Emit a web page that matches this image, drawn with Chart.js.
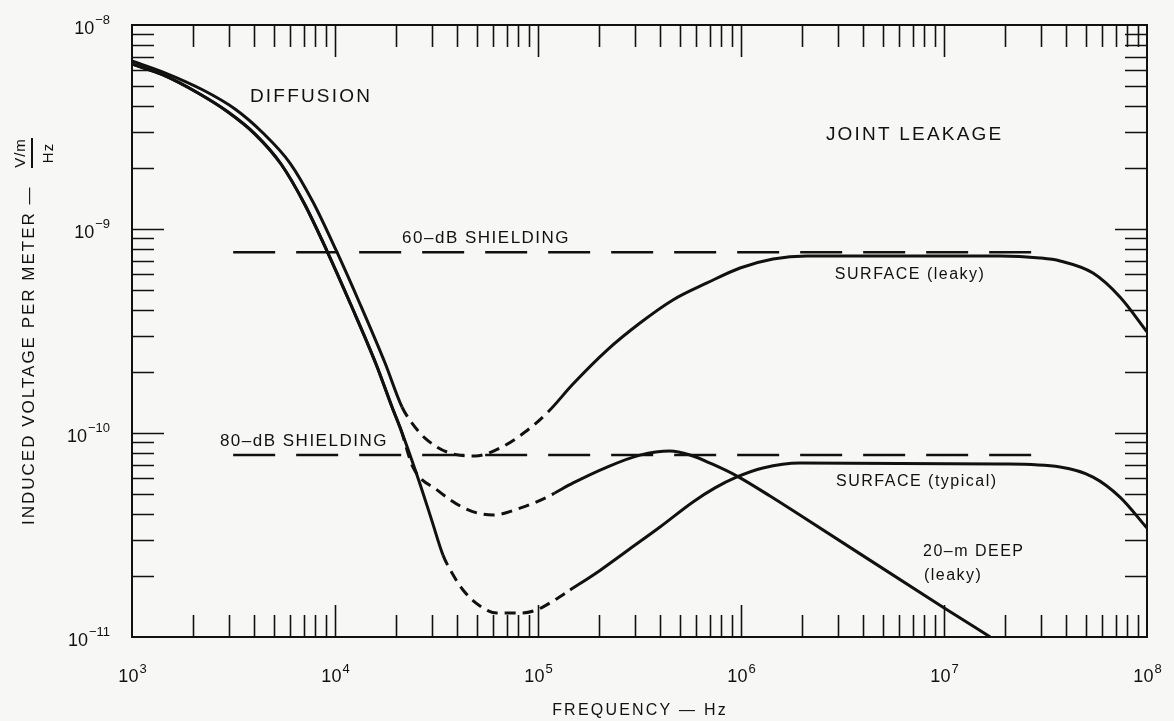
<!DOCTYPE html>
<html>
<head>
<meta charset="utf-8">
<title>Induced voltage per meter vs frequency</title>
<script src="https://cdn.jsdelivr.net/npm/chart.js@4.4.1/dist/chart.umd.min.js"></script>
<style>
  html, body { margin: 0; padding: 0; background: #f7f7f5; }
  #wrap { width: 1174px; height: 721px; position: relative; }
</style>
</head>
<body>
<div id="wrap"><canvas id="chart"></canvas></div>
<script>
// decade exponents used for tick labels
const xExps = [3, 4, 5, 6, 7, 8];
const yExps = [-8, -9, -10, -11];

// shielding reference levels (long dashes)
const shieldFreq = [3.15e3, 2.82e7];
const shield60 = [7.7e-10, 7.7e-10];
const shield80 = [7.8e-11, 7.8e-11];

// SURFACE (leaky): outer diffusion curve -> dashed dip -> joint leakage plateau
const leakyFreq = [1e3, 1.421e3, 2.238e3, 3.217e3, 4.419e3, 6.001e3, 7.791e3, 1.011e4, 1.328e4, 1.764e4, 2.138e4,
  2.395e4, 2.775e4, 3.56e4, 4.895e4, 6.5e4, 8.63e4, 1.12e5,
  1.487e5, 2.19e5, 3.18e5, 4.62e5, 6.8e5, 9.89e5, 1.438e6, 2.11e6, 1.89e7, 2.97e7, 3.73e7, 5.42e7, 7.36e7, 1e8];
const leakyVolt = [6.66e-9, 5.88e-9, 4.8e-9, 3.875e-9, 2.955e-9, 2.106e-9, 1.356e-9, 7.89e-10, 4.29e-10, 2.203e-10, 1.341e-10,
  1.119e-10, 9.45e-11, 8.07e-11, 7.71e-11, 8.44e-11, 1.011e-10, 1.267e-10,
  1.738e-10, 2.55e-10, 3.46e-10, 4.49e-10, 5.44e-10, 6.44e-10, 7.13e-10, 7.38e-10, 7.38e-10, 7.21e-10, 6.97e-10, 6.08e-10, 4.64e-10, 3.13e-10];
const leakyDashed = [2.138e4, 1.12e5];

// 20-m DEEP (leaky)
const deepFreq = [1e3, 1.421e3, 2.114e3, 2.971e3, 4.036e3, 5.42e3, 7.036e3, 9.133e3, 1.199e4, 1.592e4, 1.909e4, 2.114e4,
  2.42e4, 3.18e4, 4.47e4, 6.0e4, 8.15e4, 1.11e5, 1.21e5,
  1.49e5, 2.19e5, 3.18e5, 4.47e5, 5.61e5, 7.195e5, 9.557e5, 1.39e6, 1.95e6, 9.89e6, 1.69e7];
const deepVolt = [6.44e-9, 5.69e-9, 4.64e-9, 3.745e-9, 2.92e-9, 2.083e-9, 1.341e-9, 7.8e-10, 4.24e-10, 2.179e-10, 1.341e-10, 1.034e-10,
  6.81e-11, 5.26e-11, 4.22e-11, 3.96e-11, 4.28e-11, 4.85e-11, 5.08e-11,
  5.69e-11, 6.81e-11, 7.79e-11, 8.16e-11, 7.8e-11, 7.05e-11, 6.15e-11, 4.91e-11, 3.96e-11, 1.4e-11, 1.0e-11];
const deepDashed = [2.114e4, 1.21e5];

// SURFACE (typical)
const typicalFreq = [1e3, 1.421e3, 2.114e3, 2.971e3, 4.036e3, 5.42e3, 7.036e3, 9.133e3, 1.199e4, 1.592e4, 1.909e4, 2.114e4,
  2.342e4, 2.652e4, 3.005e4, 3.404e4, 3.771e4, 4.272e4, 5.18e4, 6.28e4, 8.15e4, 9.88e4, 1.186e5, 1.44e5,
  2.02e5, 2.74e5, 3.99e5, 5.8e5, 7.445e5, 9.557e5, 1.283e6, 1.95e6, 1.89e7, 3.73e7, 5.42e7, 7.36e7, 1e8];
const typicalVolt = [6.44e-9, 5.69e-9, 4.64e-9, 3.745e-9, 2.92e-9, 2.083e-9, 1.341e-9, 7.8e-10, 4.24e-10, 2.179e-10, 1.341e-10, 1.034e-10,
  7.8e-11, 5.44e-11, 3.7e-11, 2.52e-11, 2.06e-11, 1.7e-11, 1.42e-11, 1.31e-11, 1.31e-11, 1.36e-11, 1.5e-11, 1.7e-11,
  2.12e-11, 2.64e-11, 3.46e-11, 4.59e-11, 5.38e-11, 6.09e-11, 6.74e-11, 7.13e-11, 7.05e-11, 6.81e-11, 6.08e-11, 4.85e-11, 3.42e-11];
const typicalDashed = [3.404e4, 1.44e5];

// text placed in data coordinates [label, frequency, volts, font size]
const notes = [
  ['DIFFUSION', 3.81e3, 4.44e-9, 19],
  ['JOINT LEAKAGE', 2.62e6, 2.89e-9, 19],
  ['60\u2013dB SHIELDING', 2.14e4, 9.04e-10, 17],
  ['80\u2013dB SHIELDING', 2.71e3, 9.14e-11, 17],
  ['SURFACE (leaky)', 2.9e6, 5.96e-10, 16],
  ['SURFACE (typical)', 2.94e6, 5.75e-11, 16],
  ['20\u2013m DEEP', 7.88e6, 2.61e-11, 16],
  ['(leaky)', 7.96e6, 1.99e-11, 16]
];

const INK = '#111111';
const FONT = '"Liberation Sans", Arial, Helvetica, sans-serif';

const toPoints = (xs, ys) => xs.map((x, i) => ({ x: x, y: ys[i] }));

const dashedWithin = (range) => ({
  borderDash: ctx => (ctx.p0.parsed.x >= range[0] && ctx.p1.parsed.x <= range[1]) ? [11, 7] : undefined
});

const curve = (label, xs, ys, range) => ({
  label: label,
  data: toPoints(xs, ys),
  showLine: true,
  borderColor: INK,
  borderWidth: 3,
  pointRadius: 0,
  cubicInterpolationMode: 'monotone',
  segment: dashedWithin(range)
});

const shield = (label, ys) => ({
  label: label,
  data: toPoints(shieldFreq, ys),
  showLine: true,
  borderColor: INK,
  borderWidth: 2.5,
  borderDash: [42, 21],
  pointRadius: 0
});

// draws the frame, inward ticks, power-of-ten labels, titles and notes
const paperAxes = {
  id: 'paperAxes',
  beforeDraw(chart) {
    const c = chart.ctx;
    c.save();
    c.fillStyle = '#f7f7f5';
    c.fillRect(0, 0, chart.width, chart.height);
    c.restore();
  },
  afterDatasetsDraw(chart) {
    const c = chart.ctx;
    const a = chart.chartArea;
    const xs = chart.scales.x, ys = chart.scales.y;
    c.save();
    c.strokeStyle = INK;
    c.fillStyle = INK;

    // frame
    c.lineWidth = 2;
    c.strokeRect(a.left, a.top, a.right - a.left, a.bottom - a.top);

    // inward minor / major ticks on all four sides
    c.lineWidth = 1.6;
    c.beginPath();
    for (let e = xExps[0]; e < xExps[xExps.length - 1]; e++) {
      for (let m = 1; m <= 9; m++) {
        if (m === 1 && e === xExps[0]) continue;
        const px = Math.round(xs.getPixelForValue(m * Math.pow(10, e))) + 0.5;
        const len = m === 1 ? 32 : 22;
        c.moveTo(px, a.bottom); c.lineTo(px, a.bottom - len);
        c.moveTo(px, a.top); c.lineTo(px, a.top + len);
      }
    }
    for (let e = yExps[yExps.length - 1]; e < yExps[0]; e++) {
      for (let m = 1; m <= 9; m++) {
        if (m === 1 && e === yExps[yExps.length - 1]) continue;
        const py = Math.round(ys.getPixelForValue(m * Math.pow(10, e))) + 0.5;
        const len = m === 1 ? 32 : 22;
        c.moveTo(a.left, py); c.lineTo(a.left + len, py);
        c.moveTo(a.right, py); c.lineTo(a.right - len, py);
      }
    }
    c.stroke();

    // tick labels 10^n
    const big = '18px ' + FONT, small = '13px ' + FONT;
    c.textBaseline = 'alphabetic';
    xExps.forEach(e => {
      const px = xs.getPixelForValue(Math.pow(10, e));
      c.font = big; const w10 = c.measureText('10').width;
      c.font = small; const we = c.measureText(String(e)).width;
      const x0 = px - (w10 + we) / 2;
      c.font = big; c.textAlign = 'left'; c.fillText('10', x0, a.bottom + 45);
      c.font = small; c.fillText(String(e), x0 + w10 + 1, a.bottom + 36);
    });
    yExps.forEach(e => {
      const py = ys.getPixelForValue(Math.pow(10, e));
      const txt = '\u2212' + String(-e);
      c.font = small; const we = c.measureText(txt).width;
      c.textAlign = 'right';
      c.fillText(txt, 110, py - 1);
      c.font = big; c.fillText('10', 110 - we - 1, py + 9);
    });

    // x title
    c.font = '16px ' + FONT;
    c.letterSpacing = '2.2px';
    c.textAlign = 'center';
    c.fillText('FREQUENCY \u2014 Hz', 640, 715);

    // y title, rotated, with V/m over Hz
    c.save();
    c.rotate(-Math.PI / 2);
    c.font = '17px ' + FONT;
    c.letterSpacing = '2px';
    c.textAlign = 'left';
    c.fillText('INDUCED VOLTAGE PER METER \u2014', -525, 34);
    c.letterSpacing = '1px';
    c.font = '15px ' + FONT;
    c.textAlign = 'center';
    c.fillText('V/m', -153, 25);
    c.fillText('Hz', -153, 53);
    c.lineWidth = 2;
    c.beginPath();
    c.moveTo(-138, 32); c.lineTo(-168, 32);
    c.stroke();
    c.restore();

    // annotations
    c.textAlign = 'left';
    c.textBaseline = 'middle';
    notes.forEach(n => {
      c.font = n[3] + 'px ' + FONT;
      c.letterSpacing = n[3] >= 19 ? '2.2px' : '1.5px';
      c.fillText(n[0], xs.getPixelForValue(n[1]), ys.getPixelForValue(n[2]));
    });
    c.letterSpacing = '0px';
    c.restore();
  }
};

new Chart(document.getElementById('chart'), {
  type: 'scatter',
  data: {
    datasets: [
      shield('60-dB shielding', shield60),
      shield('80-dB shielding', shield80),
      curve('Surface (leaky)', leakyFreq, leakyVolt, leakyDashed),
      curve('20-m deep (leaky)', deepFreq, deepVolt, deepDashed),
      curve('Surface (typical)', typicalFreq, typicalVolt, typicalDashed)
    ]
  },
  options: {
    responsive: true,
    maintainAspectRatio: false,
    devicePixelRatio: 1,
    animation: false,
    layout: { padding: { left: 132, top: 25, right: 27, bottom: 84 } },
    plugins: { legend: { display: false }, tooltip: { enabled: false } },
    scales: {
      x: { type: 'logarithmic', min: 1e3, max: 1e8, display: false },
      y: { type: 'logarithmic', min: 1e-11, max: 1e-8, display: false }
    }
  },
  plugins: [paperAxes]
});
</script>
</body>
</html>
